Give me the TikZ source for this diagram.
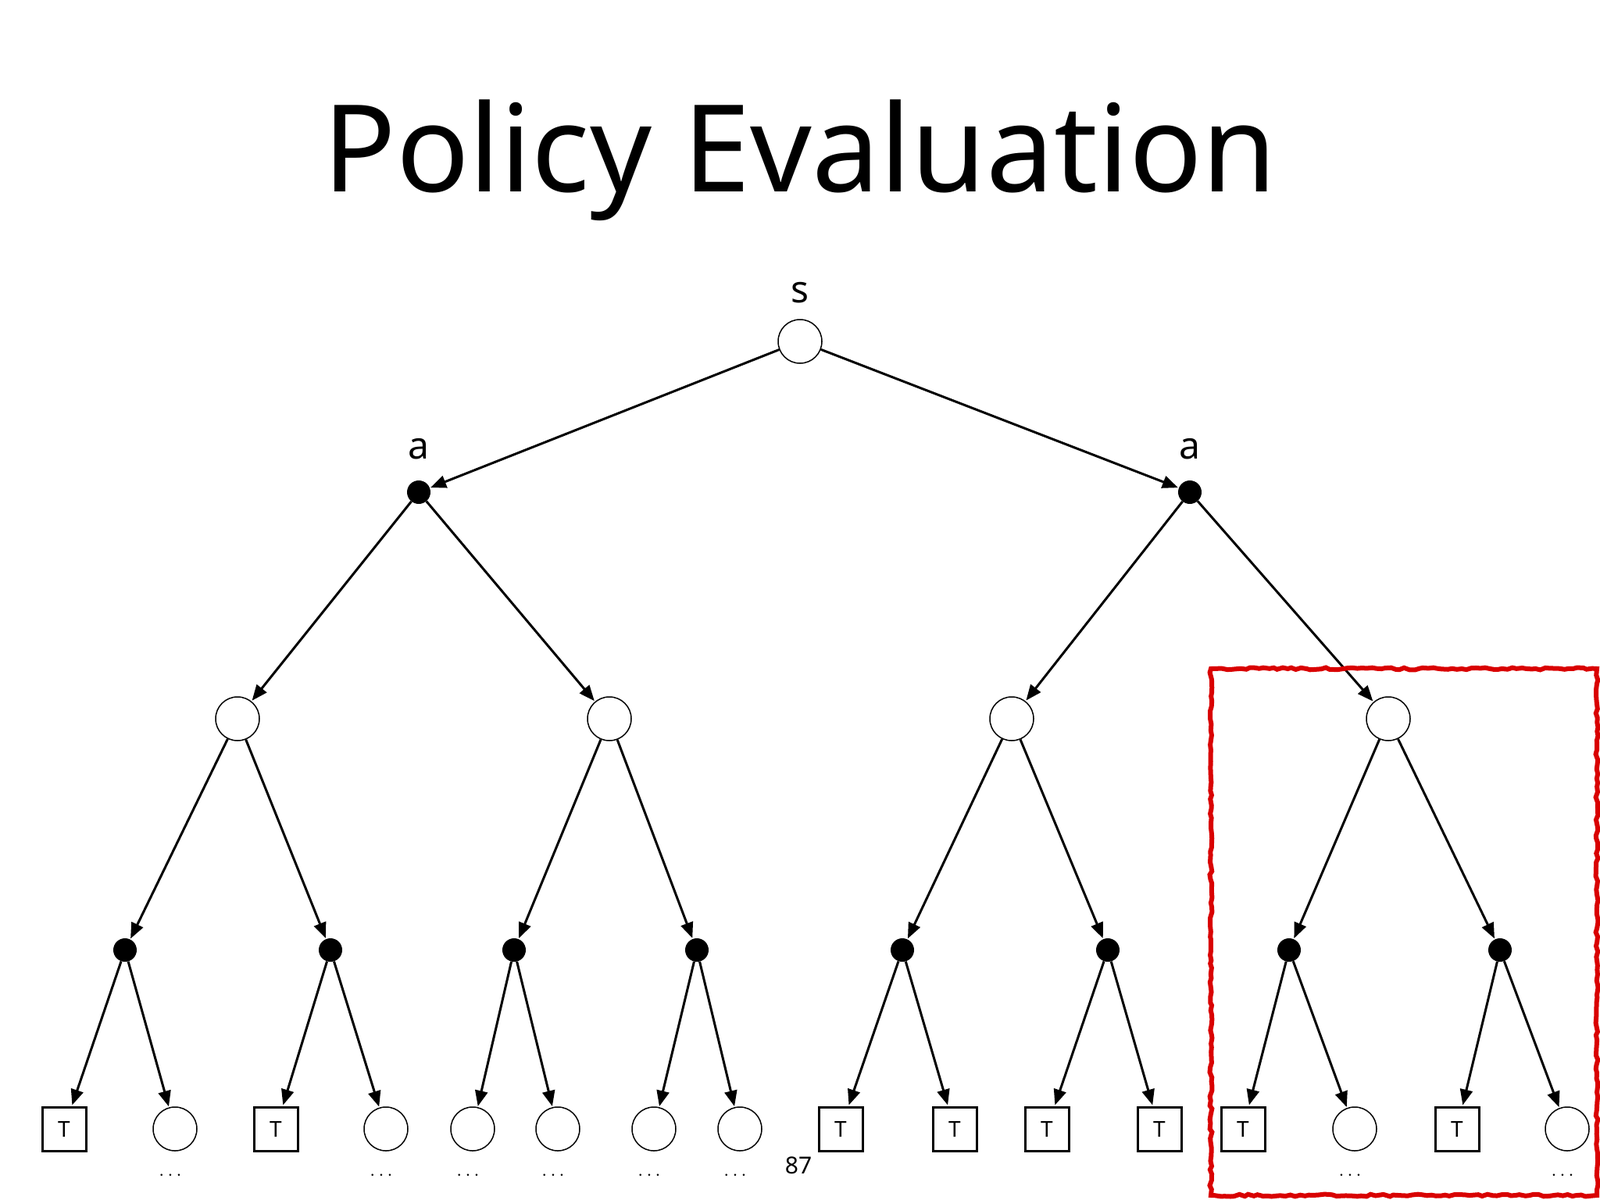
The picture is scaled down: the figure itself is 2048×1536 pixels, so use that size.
\documentclass[tikz,border=0pt]{standalone}
\usepackage{fontspec}
\setmainfont{Noto Sans}
\usetikzlibrary{arrows.meta,decorations.pathmorphing}
\begin{document}
\begin{tikzpicture}[x=1pt,y=-1pt,
  st/.style={circle,draw,line width=1.5pt,fill=white,minimum size=56pt,inner sep=0pt},
  ac/.style={circle,fill=black,minimum size=30pt,inner sep=0pt},
  tb/.style={draw,line width=3pt,minimum size=56pt,inner sep=0pt,font=\fontsize{28}{30}\selectfont\bfseries},
  ed/.style={line width=3pt,-{Triangle[length=20pt,width=16pt]},shorten >=1pt},
  lab/.style={font=\fontsize{48}{50}\selectfont},
  dt/.style={font=\fontsize{30}{32}\selectfont}]
\useasboundingbox (0,0) rectangle (2048,1536);
\node[font=\fontsize{155}{160}\selectfont\bfseries] (title) at (1024,205) {Policy Evaluation};
\node[st] (r) at (1024,437) {};
\node[lab] (ls) at (1024,375) {s};
\node[ac] (a1) at (536,630) {}; \node[lab] (la1) at (536,575) {a};
\node[ac] (a2) at (1523,630) {}; \node[lab] (la2) at (1523,575) {a};
\draw[ed] (r) -- (a1); \draw[ed] (r) -- (a2);
\foreach \n/\x/\p in {s1/304/a1,s2/780/a1,s3/1295/a2,s4/1777/a2}{
  \node[st] (\n) at (\x,920) {}; \draw[ed] (\p) -- (\n);}
\foreach \n/\x/\p in {b1/160/s1,b2/423/s1,b3/658/s2,b4/892/s2,b5/1155/s3,b6/1418/s3,b7/1650/s4,b8/1920/s4}{
  \node[ac] (\n) at (\x,1216) {}; \draw[ed] (\p) -- (\n);}
\foreach \n/\x/\p/\k in {l1/82/b1/t,l2/224/b1/c,l3/353/b2/t,l4/494/b2/c,l5/605/b3/c,l6/714/b3/c,l7/837/b4/c,l8/947/b4/c,
  l9/1076/b5/t,l10/1222/b5/t,l11/1340/b6/t,l12/1484/b6/t,l13/1591/b7/t,l14/1734/b7/c,l15/1865/b8/t,l16/2006/b8/c}{
  \if t\k \node[tb] (\n) at (\x,1445) {T};
  \else \node[st] (\n) at (\x,1445) {}; \node[dt] (d\n) at (\x-6,1505) {$\cdots$}; \fi
  \draw[ed] (\p) -- (\n);}
\node[font=\fontsize{30}{32}\selectfont] (pg) at (1022,1492) {87};
\draw[red!85!black,line width=6pt,decorate,decoration={random steps,segment length=6pt,amplitude=1.5pt}] (1550,856) rectangle (2044,1530);
\end{tikzpicture}
\end{document}
